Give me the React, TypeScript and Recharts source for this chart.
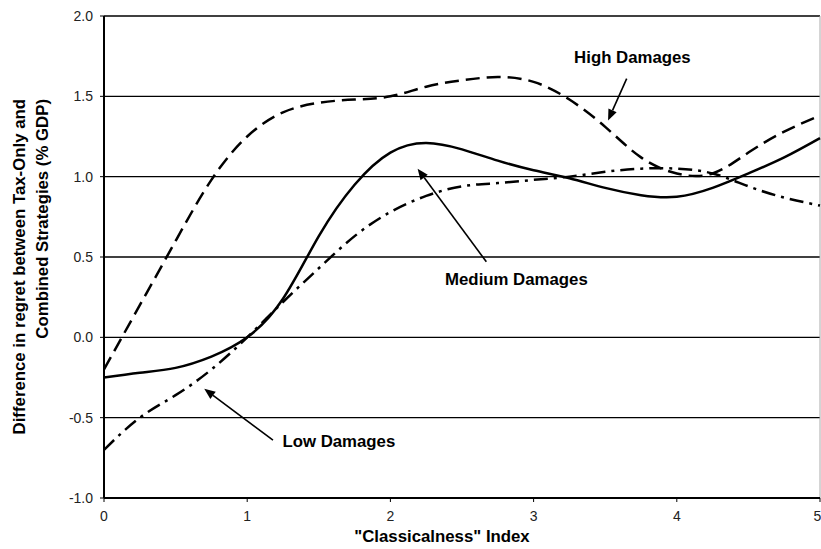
import React from "react";
import {
  CartesianGrid,
  Label,
  Line,
  LineChart,
  ReferenceDot,
  ReferenceLine,
  XAxis,
  YAxis,
} from "recharts";

const xValues = [0, 0.25, 0.5, 0.75, 1, 1.25, 1.5, 1.75, 2, 2.25, 2.5, 2.75, 3, 3.25, 3.5, 3.75, 4, 4.25, 4.5, 4.75, 5];
const highDamages = [-0.2, 0.2, 0.6, 0.98, 1.25, 1.4, 1.46, 1.48, 1.5, 1.56, 1.6, 1.62, 1.59, 1.48, 1.31, 1.12, 1.02, 1.02, 1.15, 1.28, 1.38];
const mediumDamages = [-0.25, -0.22, -0.19, -0.12, 0.0, 0.24, 0.63, 0.95, 1.15, 1.21, 1.17, 1.1, 1.04, 0.99, 0.93, 0.885, 0.875, 0.93, 1.02, 1.12, 1.24];
const lowDamages = [-0.7, -0.5, -0.36, -0.2, 0.0, 0.22, 0.43, 0.63, 0.78, 0.88, 0.94, 0.96, 0.98, 1.0, 1.03, 1.05, 1.05, 1.02, 0.94, 0.87, 0.82];

const xTicks = [0, 1, 2, 3, 4, 5];
const yTicks = [-1, -0.5, 0, 0.5, 1, 1.5, 2];

// annotation text + arrow (from text to curve), in data units
const notes = [
  { text: "High Damages", x: 3.69, y: 1.707, from: [3.65, 1.61], to: [3.52, 1.35] },
  { text: "Medium Damages", x: 2.88, y: 0.324, from: [2.67, 0.47], to: [2.19, 1.05] },
  { text: "Low Damages", x: 1.64, y: -0.68, from: [1.18, -0.64], to: [0.7, -0.32] },
];

const data = xValues.map((x, i) => ({
  x,
  high: highDamages[i],
  medium: mediumDamages[i],
  low: lowDamages[i],
}));

const font = "'Liberation Sans', Arial, Helvetica, sans-serif";

function Arrow(props: any) {
  const { x1, y1, x2, y2 } = props;
  const ang = Math.atan2(y2 - y1, x2 - x1);
  const len = 11;
  const half = 4.5;
  const bx = x2 - len * Math.cos(ang);
  const by = y2 - len * Math.sin(ang);
  const px = -Math.sin(ang) * half;
  const py = Math.cos(ang) * half;
  return (
    <g>
      <line x1={x1} y1={y1} x2={bx} y2={by} stroke="#000" strokeWidth={1.6} />
      <polygon points={`${x2},${y2} ${bx + px},${by + py} ${bx - px},${by - py}`} fill="#000" />
    </g>
  );
}

export default function App() {
  return (
    <div style={{ position: "absolute", left: 0, top: 0, background: "#fff" }}>
      <LineChart width={821} height={549} data={data} margin={{ top: 16, right: 1, bottom: 0, left: 0 }}>
        <CartesianGrid horizontal vertical={false} stroke="#000" strokeWidth={1.3} />
        <XAxis
          dataKey="x"
          type="number"
          domain={[0, 5]}
          ticks={xTicks}
          height={51}
          axisLine={{ stroke: "#000", strokeWidth: 2 }}
          tickLine={{ stroke: "#000" }}
          tickSize={4}
          tickMargin={9}
          tick={{ fill: "#222", fontSize: 14, fontFamily: font }}
        >
          <Label
            content={({ viewBox }: any) => (
              <text
                x={viewBox.x + viewBox.width / 2 - 20}
                y={viewBox.y + 44}
                textAnchor="middle"
                fontFamily={font}
                fontWeight="bold"
                fontSize={16.8}
                fill="#000"
              >
                "Classicalness" Index
              </text>
            )}
          />
        </XAxis>
        <YAxis
          type="number"
          domain={[-1, 2]}
          ticks={yTicks}
          width={104}
          axisLine={{ stroke: "#000", strokeWidth: 2 }}
          tickLine={{ stroke: "#000" }}
          tickSize={4}
          tickMargin={7}
          tickFormatter={(v) => Number(v).toFixed(1)}
          tick={{ fill: "#222", fontSize: 14, fontFamily: font }}
        >
          <Label
            content={() => (
              <g fontFamily={font} fontWeight="bold" fontSize={16.8} fill="#000">
                <text x={25} y={99} textAnchor="end" transform="rotate(-90, 25, 99)">
                  Difference in regret between Tax-Only and
                </text>
                <text x={48} y={99} textAnchor="end" transform="rotate(-90, 48, 99)">
                  Combined Strategies (% GDP)
                </text>
              </g>
            )}
          />
        </YAxis>
        <ReferenceLine x={5} stroke="#aaa" strokeWidth={1} />
        <Line
          dataKey="high"
          type="natural"
          stroke="#000"
          strokeWidth={2.5}
          strokeDasharray="14 7"
          dot={false}
          isAnimationActive={false}
        />
        <Line
          dataKey="medium"
          type="natural"
          stroke="#000"
          strokeWidth={2.5}
          dot={false}
          isAnimationActive={false}
        />
        <Line
          dataKey="low"
          type="natural"
          stroke="#000"
          strokeWidth={2.5}
          strokeDasharray="14 6 3 6"
          dot={false}
          isAnimationActive={false}
        />
        {notes.map((n) => (
          <ReferenceLine
            key={n.text + "-arrow"}
            segment={[
              { x: n.from[0], y: n.from[1] },
              { x: n.to[0], y: n.to[1] },
            ]}
            shape={Arrow}
          />
        ))}
        {notes.map((n) => (
          <ReferenceDot
            key={n.text}
            x={n.x}
            y={n.y}
            r={0}
            shape={(p: any) => (
              <text
                x={p.cx}
                y={p.cy}
                textAnchor="middle"
                fontFamily={font}
                fontWeight="bold"
                fontSize={16.8}
                fill="#000"
              >
                {n.text}
              </text>
            )}
          />
        ))}
      </LineChart>
    </div>
  );
}
